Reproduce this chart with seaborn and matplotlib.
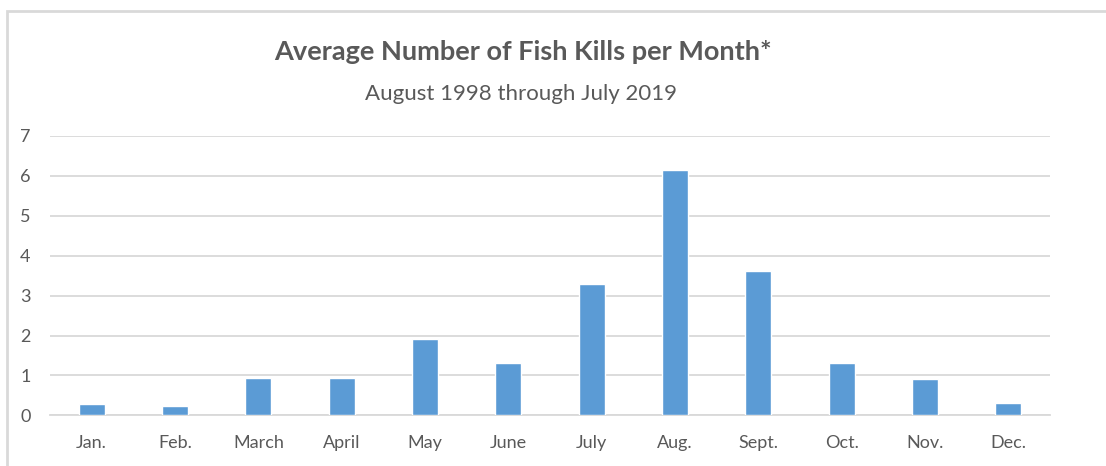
import matplotlib
matplotlib.use('Agg')
import matplotlib.pyplot as plt
import seaborn as sns
import pandas as pd
from matplotlib.patches import Rectangle

# Values
months = ['Jan.', 'Feb.', 'March', 'April', 'May', 'June',
          'July', 'Aug.', 'Sept.', 'Oct.', 'Nov.', 'Dec.']
avg_kills = [0.28, 0.24, 0.94, 0.94, 1.90, 1.32,
             3.29, 6.15, 3.61, 1.32, 0.92, 0.32]
y_ticks = [0, 1, 2, 3, 4, 5, 6, 7]

df = pd.DataFrame({'month': months, 'kills': avg_kills})

sns.set_style("white")
plt.rcParams['font.family'] = ['Lato', 'DejaVu Sans']
text_color = '#595959'

fig = plt.figure(figsize=(11.06, 4.66), dpi=100)
ax = fig.add_axes([50 / 1106, 1 - 415.3 / 466, 1000 / 1106, (415.3 - 136) / 466])

sns.barplot(x='month', y='kills', data=df, color='#5B9BD5', width=0.31,
            saturation=1, ax=ax, zorder=3)

ax.set_ylim(0, 7)
ax.set_xlim(-0.5, 11.5)
ax.set_yticks(y_ticks)
ax.yaxis.grid(True, color='#D9D9D9', linewidth=1.3, zorder=0)
ax.set_axisbelow(True)
for s in ['top', 'right', 'left']:
    ax.spines[s].set_visible(False)
ax.spines['bottom'].set_color('#D9D9D9')
ax.spines['bottom'].set_linewidth(1.3)
ax.tick_params(axis='both', length=0, colors=text_color, labelsize=13)
ax.tick_params(axis='y', pad=14)
ax.tick_params(axis='x', pad=14)
ax.set_xlabel('')
ax.set_ylabel('')

fig.text(0.473, 0.889, 'Average Number of Fish Kills per Month*', ha='center', va='center',
         fontsize=19.5, fontweight='bold', color=text_color)
fig.text(0.471, 0.799, 'August 1998 through July 2019', ha='center', va='center',
         fontsize=16, color=text_color)

# light frame around the chart area
fig.patches.append(Rectangle((6.5 / 1106, -0.1), 1.2, 1 - 10.5 / 466 + 0.1,
                             transform=fig.transFigure, fill=False,
                             edgecolor='#D9D9D9', linewidth=2))

plt.savefig('out.png', dpi=100)
plt.close()
